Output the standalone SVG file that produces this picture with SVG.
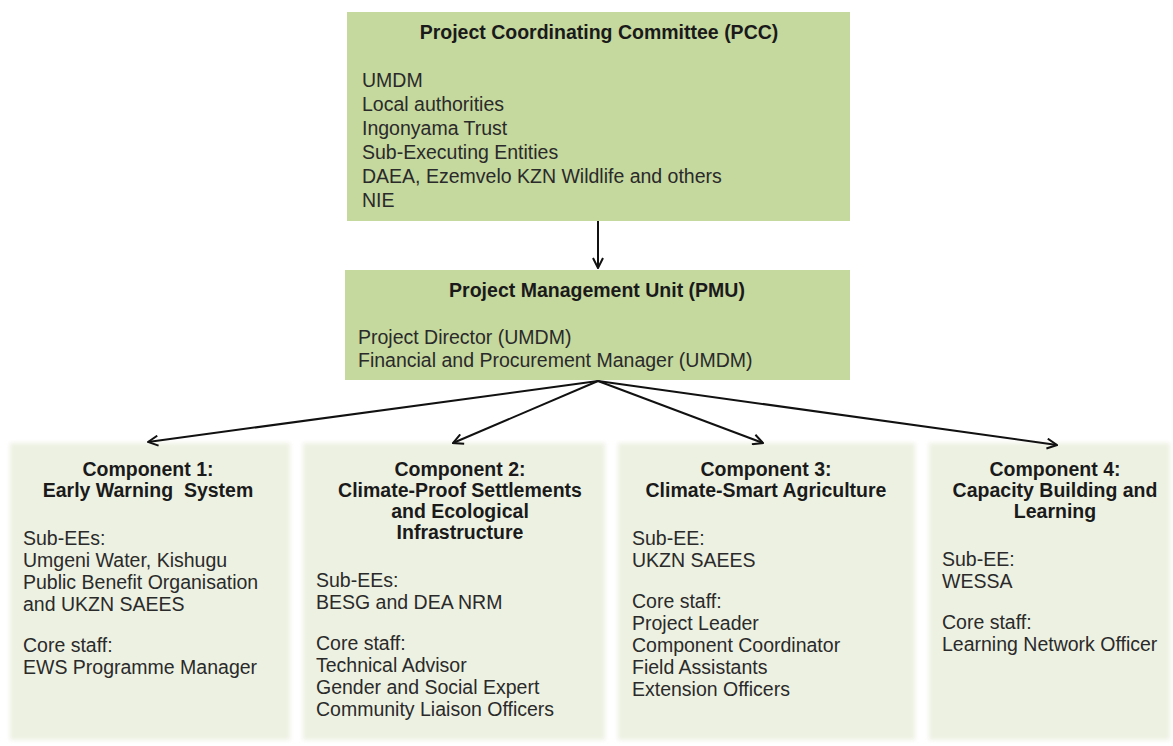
<svg xmlns="http://www.w3.org/2000/svg" width="1173" height="746" viewBox="0 0 1173 746">
  <style>
    .top { fill: #c5d89e; }
    .comp { fill: #edf1e2; }
    .title { font-family: "Liberation Sans", Arial, sans-serif; font-weight: bold; font-size: 19.5px; fill: #1a1a1a; text-anchor: middle; white-space: pre; }
    .body { font-family: "Liberation Sans", Arial, sans-serif; font-size: 19.5px; fill: #2a2a2a; }
    .conn { stroke: #111; stroke-width: 2; fill: none; }
  </style>
  <defs>
    <marker id="arr" viewBox="0 0 12 12" refX="11" refY="6" markerWidth="12" markerHeight="12" markerUnits="userSpaceOnUse" orient="auto">
      <path d="M1,1 L11,6 L1,11" fill="none" stroke="#111" stroke-width="2"/>
    </marker>
    <filter id="soft" x="-5%" y="-5%" width="110%" height="110%">
      <feGaussianBlur stdDeviation="2"/>
    </filter>
  </defs>
  <rect width="1173" height="746" fill="#ffffff"/>

  <g id="pcc">
    <rect class="top" x="347" y="12" width="503" height="209"/>
    <text class="title" x="599" y="39">Project Coordinating Committee (PCC)</text>
    <text class="body" x="362" y="87">UMDM</text>
    <text class="body" x="362" y="111">Local authorities</text>
    <text class="body" x="362" y="135">Ingonyama Trust</text>
    <text class="body" x="362" y="159">Sub-Executing Entities</text>
    <text class="body" x="362" y="183">DAEA, Ezemvelo KZN Wildlife and others</text>
    <text class="body" x="362" y="207">NIE</text>
  </g>

  <g id="pmu">
    <rect class="top" x="345" y="270" width="505" height="110"/>
    <text class="title" x="597" y="297">Project Management Unit (PMU)</text>
    <text class="body" x="358" y="344">Project Director (UMDM)</text>
    <text class="body" x="358" y="367">Financial and Procurement Manager (UMDM)</text>
  </g>

  <g id="comp1">
    <rect class="comp" x="10" y="443" width="280" height="297" filter="url(#soft)"/>
    <text class="title" x="148" y="476">Component 1:</text>
    <text class="title" x="148" y="497">Early Warning  System</text>
    <text class="body" x="23" y="545">Sub-EEs:</text>
    <text class="body" x="23" y="567">Umgeni Water, Kishugu</text>
    <text class="body" x="23" y="589">Public Benefit Organisation</text>
    <text class="body" x="23" y="611">and UKZN SAEES</text>
    <text class="body" x="23" y="652">Core staff:</text>
    <text class="body" x="23" y="674">EWS Programme Manager</text>
  </g>

  <g id="comp2">
    <rect class="comp" x="303" y="443" width="302" height="297" filter="url(#soft)"/>
    <text class="title" x="460" y="476">Component 2:</text>
    <text class="title" x="460" y="497">Climate-Proof Settlements</text>
    <text class="title" x="460" y="518">and Ecological</text>
    <text class="title" x="460" y="539">Infrastructure</text>
    <text class="body" x="316" y="587">Sub-EEs:</text>
    <text class="body" x="316" y="609">BESG and DEA NRM</text>
    <text class="body" x="316" y="650">Core staff:</text>
    <text class="body" x="316" y="672">Technical Advisor</text>
    <text class="body" x="316" y="694">Gender and Social Expert</text>
    <text class="body" x="316" y="716">Community Liaison Officers</text>
  </g>

  <g id="comp3">
    <rect class="comp" x="618" y="443" width="297" height="297" filter="url(#soft)"/>
    <text class="title" x="766" y="476">Component 3:</text>
    <text class="title" x="766" y="497">Climate-Smart Agriculture</text>
    <text class="body" x="632" y="545">Sub-EE:</text>
    <text class="body" x="632" y="567">UKZN SAEES</text>
    <text class="body" x="632" y="608">Core staff:</text>
    <text class="body" x="632" y="630">Project Leader</text>
    <text class="body" x="632" y="652">Component Coordinator</text>
    <text class="body" x="632" y="674">Field Assistants</text>
    <text class="body" x="632" y="696">Extension Officers</text>
  </g>

  <g id="comp4">
    <rect class="comp" x="929" y="443" width="241" height="297" filter="url(#soft)"/>
    <text class="title" x="1055" y="476">Component 4:</text>
    <text class="title" x="1055" y="497">Capacity Building and</text>
    <text class="title" x="1055" y="518">Learning</text>
    <text class="body" x="942" y="566">Sub-EE:</text>
    <text class="body" x="942" y="588">WESSA</text>
    <text class="body" x="942" y="629">Core staff:</text>
    <text class="body" x="942" y="651">Learning Network Officer</text>
  </g>

  <g id="connectors">
    <line class="conn" x1="598" y1="221" x2="598" y2="268" marker-end="url(#arr)"/>
    <line class="conn" x1="598" y1="381" x2="148" y2="442" marker-end="url(#arr)"/>
    <line class="conn" x1="598" y1="381" x2="453" y2="443" marker-end="url(#arr)"/>
    <line class="conn" x1="598" y1="381" x2="763" y2="443" marker-end="url(#arr)"/>
    <line class="conn" x1="598" y1="381" x2="1057" y2="445" marker-end="url(#arr)"/>
  </g>
</svg>
